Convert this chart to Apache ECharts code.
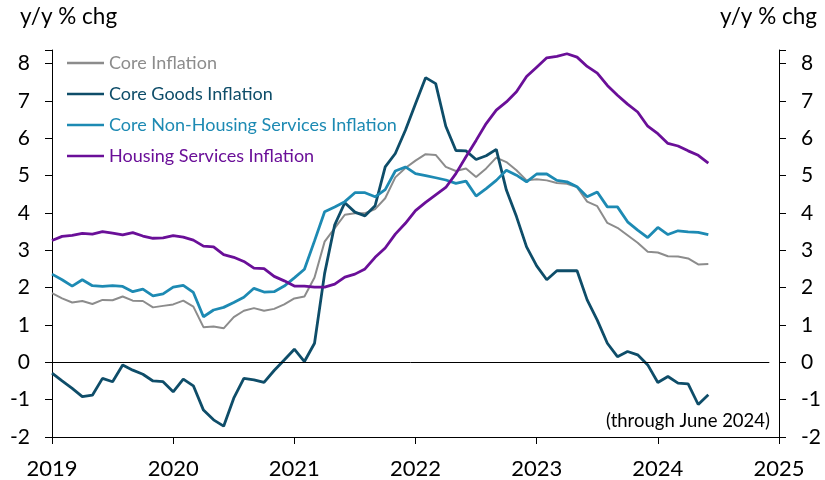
<!DOCTYPE html>
<html>
<head>
<meta charset="utf-8">
<script src="https://cdn.jsdelivr.net/npm/echarts@6/dist/echarts.min.js"></script>
<style>
  html, body { margin: 0; padding: 0; background: #fff; }
  #chart { width: 825px; height: 480px; }
</style>
</head>
<body>
<div id="chart"></div>
<script>
// Monthly year-over-year % change, January 2019 through June 2024
const startYear = 2019;
const monthCount = 66;
const months = Array.from({ length: monthCount }, (_, i) => startYear + i / 12);

const coreInflation = [
  1.85, 1.71, 1.60, 1.64, 1.56, 1.67, 1.66, 1.76, 1.65, 1.64, 1.47, 1.51,
  1.55, 1.65, 1.49, 0.94, 0.96, 0.91, 1.21, 1.38, 1.45, 1.38, 1.43, 1.55,
  1.71, 1.76, 2.27, 3.23, 3.59, 3.95, 3.99, 3.99, 4.10, 4.39, 4.95, 5.20,
  5.40, 5.57, 5.55, 5.23, 5.12, 5.19, 4.96, 5.19, 5.48, 5.36, 5.14, 4.87,
  4.90, 4.87, 4.80, 4.78, 4.69, 4.30, 4.18, 3.73, 3.60, 3.40, 3.20, 2.96,
  2.94, 2.84, 2.83, 2.78, 2.62, 2.63
];

const coreGoods = [
  -0.29, -0.50, -0.70, -0.92, -0.88, -0.43, -0.52, -0.07, -0.21, -0.32, -0.50, -0.52,
  -0.79, -0.45, -0.63, -1.28, -1.54, -1.71, -0.96, -0.43, -0.47, -0.54, -0.22, 0.06,
  0.35, 0.02, 0.51, 2.38, 3.68, 4.27, 4.02, 3.92, 4.19, 5.23, 5.59, 6.21,
  6.92, 7.62, 7.46, 6.32, 5.67, 5.66, 5.43, 5.53, 5.70, 4.61, 3.90, 3.09,
  2.58, 2.21, 2.45, 2.45, 2.45, 1.67, 1.13, 0.51, 0.15, 0.29, 0.20, -0.07,
  -0.54, -0.38, -0.56, -0.58, -1.13, -0.87
];

const coreNonHousingServices = [
  2.36, 2.21, 2.04, 2.21, 2.05, 2.03, 2.05, 2.03, 1.89, 1.96, 1.78, 1.83,
  2.01, 2.06, 1.87, 1.22, 1.40, 1.47, 1.60, 1.74, 1.98, 1.88, 1.89, 2.04,
  2.26, 2.49, 3.25, 4.03, 4.16, 4.30, 4.54, 4.54, 4.43, 4.62, 5.12, 5.23,
  5.05, 5.00, 4.94, 4.88, 4.79, 4.85, 4.45, 4.65, 4.87, 5.14, 5.01, 4.83,
  5.04, 5.04, 4.87, 4.83, 4.70, 4.43, 4.56, 4.16, 4.16, 3.76, 3.54, 3.34,
  3.61, 3.42, 3.52, 3.49, 3.48, 3.42
];

const housingServices = [
  3.26, 3.37, 3.40, 3.45, 3.43, 3.50, 3.46, 3.41, 3.47, 3.38, 3.32, 3.33,
  3.39, 3.35, 3.27, 3.11, 3.09, 2.88, 2.81, 2.70, 2.52, 2.51, 2.30, 2.18,
  2.04, 2.04, 2.01, 2.01, 2.09, 2.28, 2.36, 2.50, 2.81, 3.06, 3.43, 3.72,
  4.06, 4.28, 4.48, 4.68, 5.05, 5.50, 5.94, 6.39, 6.75, 6.97, 7.24, 7.65,
  7.90, 8.15, 8.19, 8.26, 8.17, 7.92, 7.74, 7.41, 7.15, 6.91, 6.70, 6.32,
  6.12, 5.86, 5.79, 5.66, 5.54, 5.33
];

const yearTicks = [2019, 2020, 2021, 2022, 2023, 2024, 2025];
const valueTicks = [-2, -1, 0, 1, 2, 3, 4, 5, 6, 7, 8];

const seriesDefs = [
  { name: 'Core Inflation', values: coreInflation, color: '#8c8c8c', width: 2 },
  { name: 'Core Goods Inflation', values: coreGoods, color: '#0e4d69', width: 2.8 },
  { name: 'Core Non-Housing Services Inflation', values: coreNonHousingServices, color: '#1d8ab3', width: 2.8 },
  { name: 'Housing Services Inflation', values: housingServices, color: '#6a0f98', width: 2.8 }
];

const FONT = 'Lato, "Open Sans", sans-serif';

const chart = echarts.init(document.getElementById('chart'), null, { renderer: 'canvas' });

const valueAxis = (position) => ({
  type: 'value',
  position: position,
  min: valueTicks[0],
  max: 8.36,
  interval: 1,
  axisLine: { show: true, onZero: false, lineStyle: { color: '#000', width: 1 } },
  axisTick: { show: true, inside: false, length: 7, lineStyle: { color: '#000' } },
  axisLabel: {
    margin: 22,
    fontSize: 21,
    fontFamily: FONT,
    color: '#000',
    formatter: (v) => (valueTicks.indexOf(v) >= 0 ? String(v) : '')
  },
  splitLine: { show: false }
});

chart.setOption({
  animation: false,
  backgroundColor: '#fff',
  grid: { left: 52, right: 46, top: 50, bottom: 43, containLabel: false },
  xAxis: {
    type: 'value',
    min: yearTicks[0],
    max: yearTicks[yearTicks.length - 1],
    interval: 1,
    axisLine: { show: true, onZero: false, lineStyle: { color: '#000', width: 1 } },
    axisTick: { show: true, inside: false, length: 7, lineStyle: { color: '#000' } },
    axisLabel: {
      margin: 21,
      fontSize: 22,
      fontFamily: FONT,
      color: '#000',
      formatter: (v) => String(v)
    },
    splitLine: { show: false }
  },
  yAxis: [valueAxis('left'), valueAxis('right')],
  legend: {
    orient: 'vertical',
    left: 62,
    top: 48,
    itemWidth: 37,
    itemHeight: 2.5,
    itemGap: 11,
    icon: 'rect',
    selectedMode: false,
    textStyle: { fontSize: 18, fontFamily: FONT, lineHeight: 20 },
    data: seriesDefs.map((s) => ({
      name: s.name,
      itemStyle: { color: s.color },
      textStyle: { color: s.color }
    }))
  },
  graphic: [
    {
      type: 'text', left: 20, top: 5,
      style: { text: 'y/y % chg', fontSize: 22.5, fontFamily: FONT, fill: '#000' }
    },
    {
      type: 'text', right: 8, top: 5,
      style: { text: 'y/y % chg', fontSize: 22.5, fontFamily: FONT, fill: '#000' }
    },
    {
      type: 'text', right: 55, top: 412,
      style: { text: '(through June 2024)', fontSize: 18.5, fontFamily: FONT, fill: '#000' }
    }
  ],
  series: seriesDefs.map((s, k) => ({
    name: s.name,
    type: 'line',
    yAxisIndex: 0,
    symbol: 'none',
    smooth: false,
    z: 2 + k,
    lineStyle: { color: s.color, width: s.width },
    itemStyle: { color: s.color },
    data: s.values.map((v, i) => [months[i], v]),
    markLine: k === 0 ? {
      silent: true,
      symbol: 'none',
      label: { show: false },
      lineStyle: { color: '#000', width: 1, type: 'solid' },
      data: [[{ coord: [yearTicks[0], 0] }, { coord: [2024.92, 0] }]]
    } : undefined
  }))
});
</script>
</body>
</html>
